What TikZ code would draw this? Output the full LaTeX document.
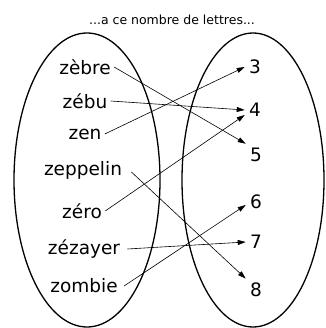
\documentclass[tikz,border=0pt]{standalone}
\usepackage{fontspec}
\setmainfont{DejaVu Sans}
\usetikzlibrary{arrows.meta}

\begin{document}
\begin{tikzpicture}[x=1pt, y=-1pt, thick]
      \tikzset{
        mot/.style={font=\fontsize{18.5}{20}\selectfont, inner sep=3pt},
        nombre/.style={font=\fontsize{18.5}{20}\selectfont, inner sep=4pt},
        fleche/.style={line width=0.6pt, -{Triangle[length=8pt,width=5pt]}}
      }
      \useasboundingbox (0,0) rectangle (325,328);

      \node[font=\fontsize{12.5}{14}\selectfont] (titre) at (172,20) {...a ce nombre de lettres...};

      % les deux ensembles
      \draw[line width=1.3pt] (87,180) ellipse [x radius=73, y radius=147];
      \draw[line width=1.3pt] (253,180) ellipse [x radius=71, y radius=147];

      % les mots
      \node[mot] (zebre) at (85,67) {zèbre};
      \node[mot] (zebu) at (85,101) {zébu};
      \node[mot] (zen) at (85,134) {zen};
      \node[mot] (zeppelin) at (83,170) {zeppelin};
      \node[mot] (zero) at (82,211) {zéro};
      \node[mot] (zezayer) at (84,249) {zézayer};
      \node[mot] (zombie) at (84,286) {zombie};

      % les nombres
      \node[nombre] (n3) at (255,67) {3};
      \node[nombre] (n4) at (255,110) {4};
      \node[nombre] (n5) at (256,155) {5};
      \node[nombre] (n6) at (256,202) {6};
      \node[nombre] (n7) at (256,242) {7};
      \node[nombre] (n8) at (256,290) {8};

      \draw[fleche] (zebre.east) -- (n5.north west);
      \draw[fleche] (zebu.east) -- (n4.west);
      \draw[fleche] (zen.east) -- (n3.west);
      \draw[fleche] ([xshift=6pt,yshift=-2pt]zeppelin.east) -- (n8.north west);
      \draw[fleche] (zero.east) -- ([yshift=-5pt]n4.west);
      \draw[fleche] ([xshift=4pt]zezayer.east) -- (n7.west);
      \draw[fleche] ([xshift=3pt]zombie.east) -- ([yshift=-3pt]n6.west);
    \end{tikzpicture}
\end{document}
